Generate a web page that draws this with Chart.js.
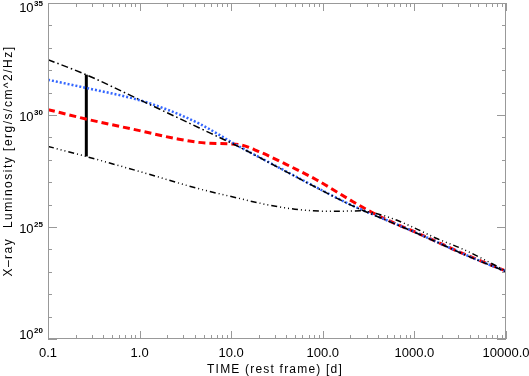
<!DOCTYPE html>
<html>
<head>
<meta charset="utf-8">
<script src="https://cdn.jsdelivr.net/npm/chart.js@4"></script>
<style>
  body { margin: 0; background: #fff; }
</style>
</head>
<body>
<canvas id="xrayChart" width="529" height="376"></canvas>
<script>
// axis ticks
const xTickValues = [0.1, 1, 10, 100, 1000, 10000];
const xTickLabels = ['0.1', '1.0', '10.0', '100.0', '1000.0', '10000.0'];
const yTickValues = [1e20, 1e25, 1e30, 1e35];
const yTickExponents = ['20', '25', '30', '35'];

// upper dash-dot model
const timeUpper = [0.1, 0.26, 1.0, 4.5, 12.4, 34, 78, 200, 500, 1000, 1780, 3160, 5620, 10000];
const lumUpper = [2.95e32, 6.31e31, 4.79e30, 2.63e29, 3.63e28, 4.17e27, 6.92e26, 9.77e25, 1.95e25, 5.89e24, 2.04e24, 7.08e23, 2.63e23, 1.02e23];

// blue dotted
const timeBlue = [0.1, 0.26, 1.0, 2.0, 4.5, 12.4, 34, 78, 200, 500, 1000, 1780, 3160, 5620, 10000];
const lumBlue = [3.72e31, 1.62e31, 4.57e30, 1.74e30, 4.07e29, 3.80e28, 4.27e27, 7.08e26, 1.0e26, 2.0e25, 6.03e24, 2.09e24, 7.24e23, 2.69e23, 1.05e23];

// red dashed
const timeRed = [0.1, 0.26, 1.0, 2.6, 5.2, 12.4, 20, 37, 85, 200, 320, 500, 1000, 1780, 3160, 5620, 10000];
const lumRed = [1.74e30, 6.61e29, 2.0e29, 8.51e28, 5.62e28, 4.68e28, 2.34e28, 7.24e27, 1.29e27, 1.58e26, 5.25e25, 2.09e25, 6.17e24, 2.14e24, 7.41e23, 2.75e23, 1.07e23];

// lower dash-dot-dot-dot model
const timeLower = [0.1, 0.26, 1.14, 4.5, 10.5, 24.4, 56.5, 129, 257, 400, 617, 1000, 1700, 3470, 7940, 10000];
const lumLower = [3.98e28, 1.41e28, 2.57e27, 5.01e26, 2.19e26, 1.0e26, 5.89e25, 5.01e25, 5.25e25, 3.80e25, 2.14e25, 9.12e24, 3.24e24, 9.77e23, 1.78e23, 1.07e23];

// vertical bar between the two black models
const timeBar = [0.262, 0.262];
const lumBar = [6.31e31, 1.41e28];

const pts = (t, l) => t.map((v, i) => ({ x: v, y: l[i] }));

const FONT = '"Liberation Sans", Arial, sans-serif';

const idlAxes = {
  id: 'idlAxes',
  afterDraw(chart) {
    const { ctx, chartArea: a, scales: { x, y } } = chart;
    ctx.save();
    ctx.strokeStyle = '#999';
    ctx.lineWidth = 1;
    ctx.strokeRect(a.left + 0.5, a.top + 0.5, a.right - a.left - 1, a.bottom - a.top - 1);

    ctx.beginPath();
    // x ticks, bottom and top
    for (let d = 0.1; d < 10000; d *= 10) {
      for (let k = 1; k <= 10; k++) {
        const v = k * d;
        const px = Math.round(x.getPixelForValue(v)) + 0.5;
        const len = (k === 1 || k === 10) ? 8 : 4;
        ctx.moveTo(px, a.bottom); ctx.lineTo(px, a.bottom - len);
        ctx.moveTo(px, a.top); ctx.lineTo(px, a.top + len);
      }
    }
    // y ticks, left and right
    for (let e = 20; e <= 35; e++) {
      const py = Math.round(y.getPixelForValue(Math.pow(10, e))) + 0.5;
      const len = (e % 5 === 0) ? 9 : 4;
      ctx.moveTo(a.left, py); ctx.lineTo(a.left + len, py);
      ctx.moveTo(a.right, py); ctx.lineTo(a.right - len, py);
    }
    ctx.stroke();

    ctx.fillStyle = '#000';
    // x tick labels
    ctx.font = '13px ' + FONT;
    ctx.textAlign = 'center';
    ctx.textBaseline = 'alphabetic';
    xTickValues.forEach((v, i) => {
      ctx.fillText(xTickLabels[i], x.getPixelForValue(v), 357);
    });

    // y tick labels 10^n
    yTickValues.forEach((v, i) => {
      let py = y.getPixelForValue(v) + 6;
      if (i === 0) py = a.bottom;
      if (i === yTickValues.length - 1) py = a.top + 9;
      ctx.font = 'bold 8px ' + FONT;
      const ew = ctx.measureText(yTickExponents[i]).width;
      ctx.textAlign = 'right';
      ctx.fillText(yTickExponents[i], 43, py - 6);
      ctx.font = '13px ' + FONT;
      ctx.fillText('10', 43 - ew - 0.5, py);
    });

    // axis titles
    ctx.font = '12px ' + FONT;
    ctx.letterSpacing = '1.2px';
    ctx.textAlign = 'center';
    ctx.fillText('TIME (rest frame) [d]', (a.left + a.right) / 2 - 2, 373);

    ctx.letterSpacing = '1.5px';
    ctx.translate(12, 161);
    ctx.rotate(-Math.PI / 2);
    ctx.fillText('X\u2013ray  Luminosity [erg/s/cm^2/Hz]', 0, 0);
    ctx.restore();
  }
};

new Chart(document.getElementById('xrayChart'), {
  type: 'scatter',
  data: {
    datasets: [
      { data: pts(timeLower, lumLower), borderColor: '#000', borderWidth: 1.5, borderDash: [6, 3, 1, 3, 1, 3, 1, 3] },
      { data: pts(timeUpper, lumUpper), borderColor: '#000', borderWidth: 1.5, borderDash: [7, 3, 1.5, 3] },
      { data: pts(timeBlue, lumBlue), borderColor: '#3366ff', borderWidth: 2.5, borderDash: [2, 2] },
      { data: pts(timeRed, lumRed), borderColor: '#ff0000', borderWidth: 3, borderDash: [7, 4] },
      { data: pts(timeBar, lumBar), borderColor: '#000', borderWidth: 3 }
    ]
  },
  options: {
    responsive: false,
    animation: false,
    showLine: true,
    layout: { padding: { top: 3, right: 23, left: 0, bottom: 0 } },
    elements: {
      point: { radius: 0, hoverRadius: 0 },
      line: { cubicInterpolationMode: 'monotone', fill: false }
    },
    plugins: { legend: { display: false }, tooltip: { enabled: false } },
    scales: {
      x: {
        type: 'logarithmic', min: 0.1, max: 10000,
        ticks: { display: false }, grid: { display: false }, border: { display: false },
        afterFit: s => { s.height = 37; }
      },
      y: {
        type: 'logarithmic', min: 1e20, max: 1e35,
        ticks: { display: false }, grid: { display: false }, border: { display: false },
        afterFit: s => { s.width = 48; }
      }
    }
  },
  plugins: [idlAxes]
});
</script>
</body>
</html>
